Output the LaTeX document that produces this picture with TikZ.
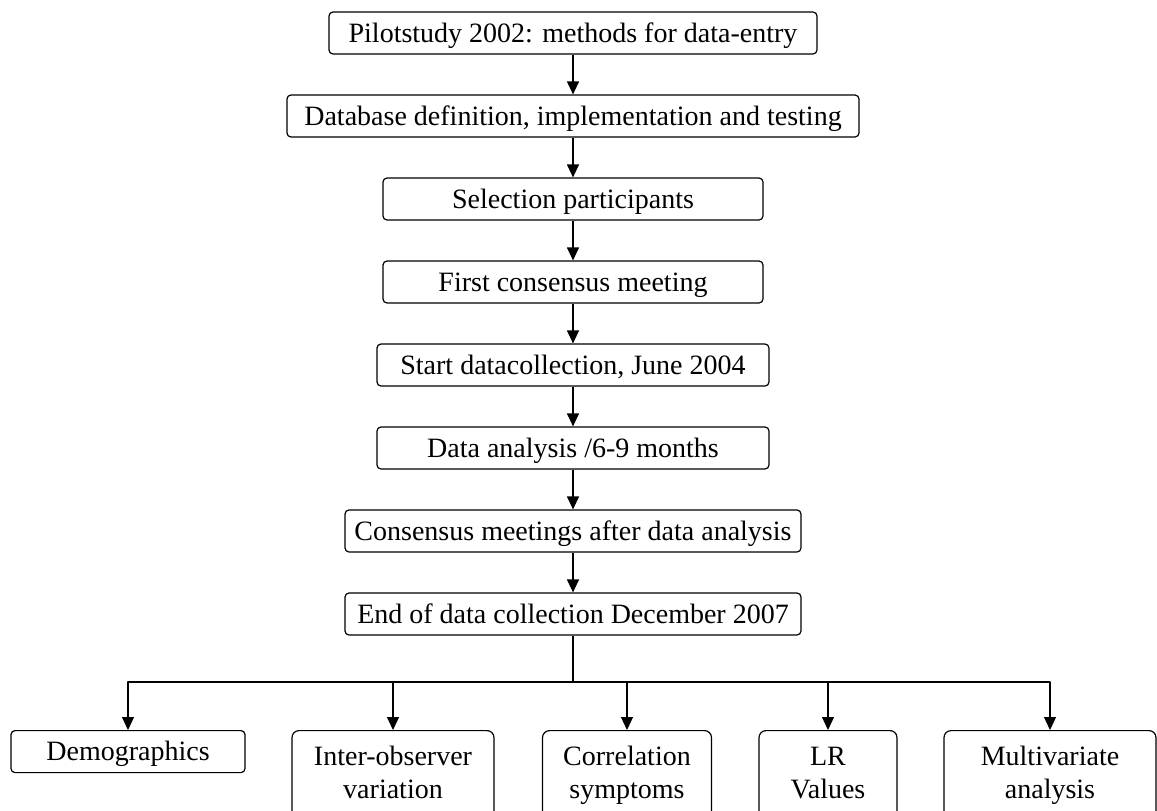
\documentclass[tikz,border=0pt]{standalone}
\usepackage{fontspec}
\setmainfont{Liberation Serif}
\usetikzlibrary{arrows.meta}
\tikzset{
  stage/.style={draw, rounded corners=4pt, minimum height=42pt, inner sep=0pt,
    text height=18pt, text depth=0pt, font=\fontsize{28}{33}\selectfont},
  result/.style={draw, rounded corners=7pt, minimum height=90pt, inner sep=0pt,
    anchor=north, align=center, font=\fontsize{28}{33}\selectfont}
}
\begin{document}
\begin{tikzpicture}[x=1pt, y=-1pt, line width=1.2pt, line join=round, >={Triangle[length=13pt,width=12pt]}]
\useasboundingbox (0,0) rectangle (1157,811);
\clip (0,0) rectangle (1157,811);
\node[stage, minimum width=488pt] (pilot) at (573,33) {Pilotstudy 2002: methods for data-entry};
\node[stage, minimum width=572pt] (db) at (573,116) {Database definition, implementation and testing};
\node[stage, minimum width=380pt] (sel) at (573,199) {Selection participants};
\node[stage, minimum width=380pt] (first) at (573,282) {First consensus meeting};
\node[stage, minimum width=392pt] (start) at (573,365) {Start datacollection, June 2004};
\node[stage, minimum width=392pt] (analysis) at (573,448) {Data analysis /6-9 months};
\node[stage, minimum width=456pt] (meetings) at (573,531) {Consensus meetings after data analysis};
\node[stage, minimum width=456pt] (end) at (573,614) {End of data collection December 2007};

\node[stage, anchor=north, minimum width=234pt] (demo) at (128,730) {Demographics};
\node[result, minimum width=202pt] (inter) at (393,730) {\strut Inter-observer\\variation\strut};
\node[result, minimum width=169pt] (corr) at (627,730) {\strut Correlation\\symptoms\strut};
\node[result, minimum width=138pt] (lr) at (828,730) {\strut LR\\Values\strut};
\node[result, minimum width=212pt] (multi) at (1050,730) {\strut Multivariate\\analysis\strut};

\foreach \a/\b in {pilot/db,db/sel,sel/first,first/start,start/analysis,analysis/meetings,meetings/end}
  \draw[->] (\a) -- (\b);

\coordinate (fork) at (573,682);
\draw (end) -- (fork);
\foreach \n in {demo,inter,corr,lr,multi}
  \draw[->] (fork) -| (\n);
\end{tikzpicture}
\end{document}
